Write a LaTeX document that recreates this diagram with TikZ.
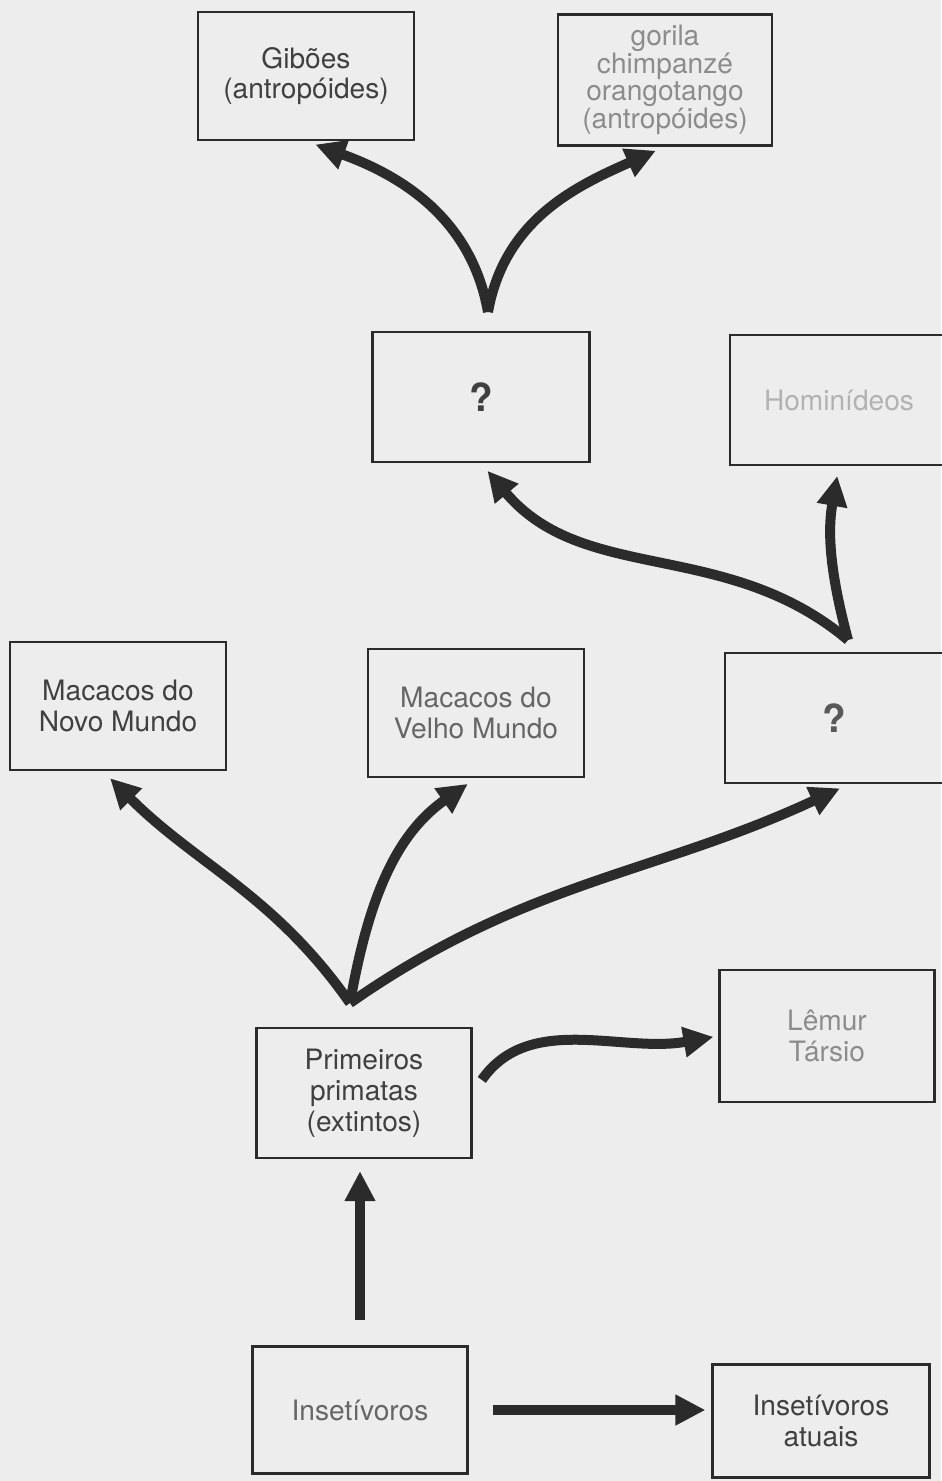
\documentclass[tikz,border=0pt]{standalone}
\usepackage{fontspec}
\setmainfont{TeX Gyre Heros}
\usetikzlibrary{arrows.meta}
\definecolor{papel}{HTML}{EDEDED}
\definecolor{tinta}{HTML}{2B2B2B}
\tikzset{
  caixa/.style={draw=tinta, line width=1.3pt, minimum width=4.32cm, minimum height=2.56cm,
    align=center, inner sep=2pt, text=#1, font=\fontsize{16}{17.5}\selectfont},
  caixa/.default=black!75,
  interr/.style={font=\fontsize{22}{24}\selectfont\bfseries},
  ramo/.style={draw=tinta, line width=0.2cm, -{Triangle[length=0.6cm,width=0.58cm]},
    shorten >=0.2cm},
}
\begin{document}
\begin{tikzpicture}[x=0.02cm,y=0.02cm]
\fill[papel] (0,0) rectangle (941,-1481);
\useasboundingbox (0,0) rectangle (941,-1481);

\node[caixa] (gib) at (306,-76) {Gibões\\(antropóides)};
\node[caixa=black!45, font=\fontsize{16}{13.6}\selectfont, minimum width=4.28cm, minimum height=2.62cm]
  (gor) at (665,-80) {gorila\\chimpanzé\\orangotango\\(antropóides)};
\node[caixa=black!75, interr, minimum width=4.34cm, minimum height=2.6cm] (q1) at (481,-397) {?};
\node[caixa=black!30, minimum width=4.36cm, minimum height=2.6cm] (hom) at (839,-400) {Hominídeos};
\node[caixa=black!65, interr, minimum width=4.36cm, minimum height=2.6cm] (q2) at (834,-718) {?};
\node[caixa] (nm) at (118,-706) {Macacos do\\Novo Mundo};
\node[caixa=black!60] (vm) at (476,-713) {Macacos do\\Velho Mundo};
\node[caixa=black!45, minimum width=4.3cm, minimum height=2.64cm] (lem) at (827,-1036) {Lêmur\\Társio};
\node[caixa, minimum width=4.3cm, minimum height=2.6cm] (pp) at (364,-1093) {Primeiros\\primatas\\(extintos)};
\node[caixa=black!60, minimum width=4.3cm, minimum height=2.54cm] (ins) at (360,-1410) {Insetívoros};
\node[caixa, minimum width=4.34cm, minimum height=2.26cm] (atu) at (821,-1421) {Insetívoros\\atuais};

\coordinate (j1) at (488,-312);
\coordinate (j2) at (848,-640);
\coordinate (j3) at (350,-1003);

\draw[ramo] (j1) to[out=100,in=-20] (gib.south);
\draw[ramo] (j1) to[out=80,in=204] (gor.south);
\draw[ramo] (j2) to[out=140,in=-50] (q1.south);
\draw[ramo] (j2) to[out=105,in=-100] (hom.south);
\draw[ramo] (j3) to[out=125,in=-45] ([xshift=-0.3cm]nm.south);
\draw[ramo] (j3) to[out=80,in=215] (vm.south);
\draw[ramo] (j3) to[out=35,in=205] ([xshift=0.3cm]q2.south);
\draw[ramo, shorten <=0.32cm, shorten >=0.1cm] (pp.east) to[out=55,in=190] (lem.west);
\draw[ramo, shorten <=0.5cm, shorten >=0.24cm] (ins.north) -- (ins.north |- pp.south);
\draw[ramo, shorten <=0.48cm, shorten >=0.12cm] (ins.east) -- (ins.east -| atu.west);
\end{tikzpicture}
\end{document}
